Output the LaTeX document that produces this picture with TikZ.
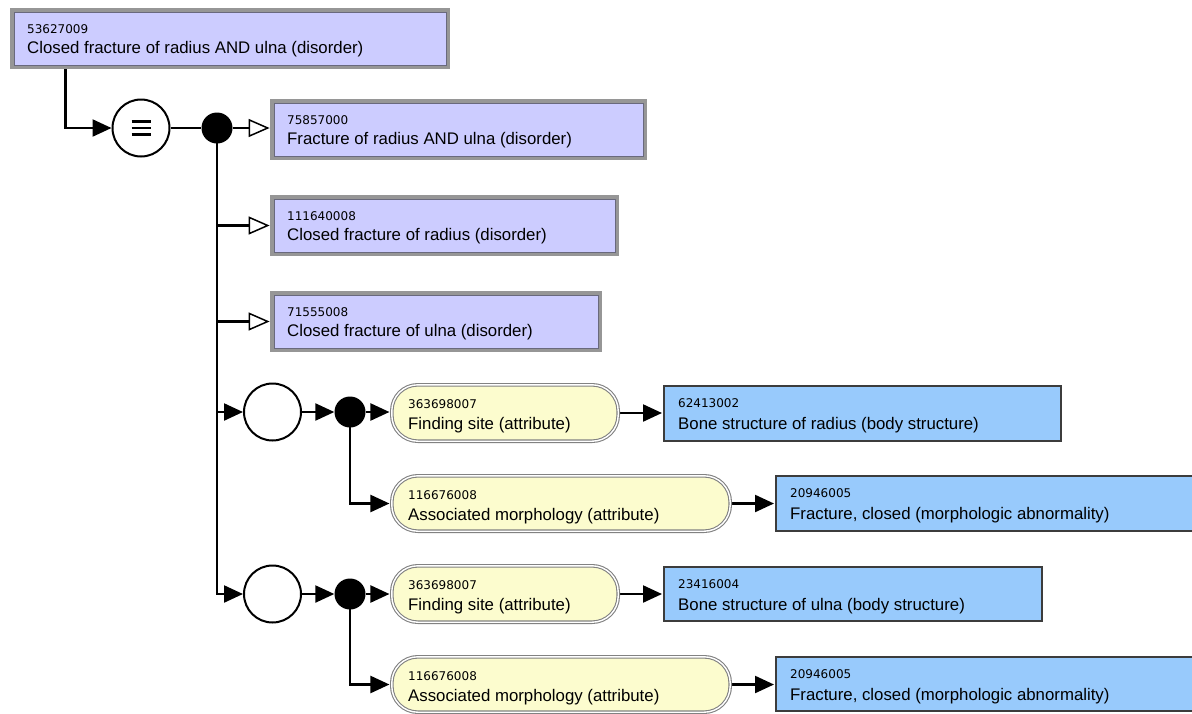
\documentclass[tikz,border=0pt]{standalone}
\usepackage{fontspec}
\setmainfont{Liberation Sans}
\newfontfamily\numfont{DejaVu Sans}
\usetikzlibrary{arrows.meta}
\definecolor{lav}{RGB}{204,204,255}
\definecolor{yel}{RGB}{252,252,206}
\definecolor{sky}{RGB}{152,202,252}
\definecolor{bandgray}{RGB}{150,150,150}
\definecolor{inedge}{RGB}{105,105,125}
\definecolor{pillgray}{RGB}{130,130,130}
\definecolor{bodyedge}{RGB}{60,60,60}
\pgfdeclarelayer{bg}
\pgfsetlayers{bg,main}
\tikzset{
  disorder/.style={rectangle, fill=lav, draw=inedge, line width=0.8pt,
    preaction={draw=bandgray, line width=8pt}, inner sep=0pt},
  attpill/.style={rectangle, rounded corners=26pt, fill=yel, draw=pillgray,
    line width=1.1pt, double=white, double distance=1.4pt, inner sep=0pt},
  bodybox/.style={rectangle, fill=sky, draw=bodyedge, line width=2pt, inner sep=0pt},
  numtxt/.style={anchor=base west, inner sep=0pt, font=\numfont\fontsize{12}{14}\selectfont},
  labtxt/.style={anchor=base west, inner sep=0pt, font=\fontsize{16.8}{19}\selectfont},
  opcircle/.style={circle, draw=black, fill=white, line width=2pt, minimum size=57pt, inner sep=0pt},
  dot/.style={circle, fill=black, minimum size=31pt, inner sep=0pt},
  conn/.style={draw=black, line width=2.3pt},
  fa/.style={-{Triangle[length=19pt,width=17pt]}},
  oa/.style={-{Triangle[length=21pt,width=18pt,line width=1.5pt,fill=white]}},
}
\newcommand\disbox[7]{%
  \node[disorder, minimum width={#4-#2-8}, minimum height={#5-#3-8}] (#1) at ({(#2+#4)/2},{(#3+#5)/2}) {};
  \node[numtxt] (#1n) at ({#2+17},{#3+25}) {#6};
  \node[labtxt] (#1l) at ({#2+17},{#3+45}) {#7};
}
\newcommand\pillbox[7]{%
  \node[attpill, minimum width={#4-#2-3.6}, minimum height={#5-#3-3.6}] (#1) at ({(#2+#4)/2},{(#3+#5)/2}) {};
  \node[numtxt] (#1n) at ({#2+18},{#3+25}) {#6};
  \node[labtxt] (#1l) at ({#2+18},{#3+46}) {#7};
}
\newcommand\bodyb[7]{%
  \node[bodybox, minimum width={#4-#2-2}, minimum height={#5-#3-2}] (#1) at ({(#2+#4)/2},{(#3+#5)/2}) {};
  \node[numtxt] (#1n) at ({#2+15},{#3+22.5}) {#6};
  \node[labtxt] (#1l) at ({#2+15},{#3+44}) {#7};
}
\begin{document}
\begin{tikzpicture}[x=1pt,y=-1pt]
\useasboundingbox (0,0) rectangle (1192,713);

\disbox{A}{10}{8}{450}{69}{53627009}{Closed fracture of radius AND ulna (disorder)}
\disbox{B}{270}{99}{647}{160}{75857000}{Fracture of radius AND ulna (disorder)}
\disbox{C}{270}{195}{619}{256}{111640008}{Closed fracture of radius (disorder)}
\disbox{D}{270}{291}{602}{352}{71555008}{Closed fracture of ulna (disorder)}

\node[opcircle] (eq) at (141,128) {};
\draw[line width=2.6pt] ([shift={(-9.5,-6.5)}]eq.center) -- ++(19,0)
  ([shift={(-9.5,0)}]eq.center) -- ++(19,0)
  ([shift={(-9.5,6.5)}]eq.center) -- ++(19,0);
\node[dot] (d1) at (217,128) {};

\node[opcircle] (c1) at (272.5,412) {};
\node[dot] (d2) at (350,412) {};
\node[opcircle] (c2) at (272.5,594) {};
\node[dot] (d3) at (350,594) {};

\pillbox{p1}{390}{383}{620}{443}{363698007}{Finding site (attribute)}
\pillbox{p2}{390}{474}{732}{533}{116676008}{Associated morphology (attribute)}
\pillbox{p3}{390}{564}{620}{624}{363698007}{Finding site (attribute)}
\pillbox{p4}{390}{655}{732}{714}{116676008}{Associated morphology (attribute)}

\bodyb{b1}{663}{385}{1062}{442}{62413002}{Bone structure of radius (body structure)}
\bodyb{b2}{775}{475}{1200}{532}{20946005}{Fracture, closed (morphologic abnormality)}
\bodyb{b3}{663}{566}{1043}{622}{23416004}{Bone structure of ulna (body structure)}
\bodyb{b4}{775}{656}{1200}{712}{20946005}{Fracture, closed (morphologic abnormality)}

\begin{pgfonlayer}{bg}
\coordinate (astart) at ([xshift=52pt]A.south west);
\draw[conn, fa] (astart) |- (eq.west);
\draw[conn] (eq.east) -- (d1.west);
\draw[conn, oa, shorten >=4pt] (d1.east) -- (d1.east -| B.west);
\draw[conn, fa] (d1.center) |- (c2.west);
\draw[conn, oa, shorten >=4pt] (d1 |- C.west) -- (C.west);
\draw[conn, oa, shorten >=4pt] (d1 |- D.west) -- (D.west);
\draw[conn, fa] (d1 |- c1.west) -- (c1.west);
\draw[conn, fa] (c1.east) -- (d2.west);
\draw[conn, fa, shorten >=1.8pt] (d2.east) -- (d2.east -| p1.west);
\draw[conn, fa, shorten >=1.8pt] (d2.center) |- (p2.west);
\draw[conn, fa, shorten >=1pt] (p1.east) -- (p1.east -| b1.west);
\draw[conn, fa, shorten >=1pt] (p2.east) -- (p2.east -| b2.west);
\draw[conn, fa] (c2.east) -- (d3.west);
\draw[conn, fa, shorten >=1.8pt] (d3.east) -- (d3.east -| p3.west);
\draw[conn, fa, shorten >=1.8pt] (d3.center) |- (p4.west);
\draw[conn, fa, shorten >=1pt] (p3.east) -- (p3.east -| b3.west);
\draw[conn, fa, shorten >=1pt] (p4.east) -- (p4.east -| b4.west);
\end{pgfonlayer}
\end{tikzpicture}
\end{document}
